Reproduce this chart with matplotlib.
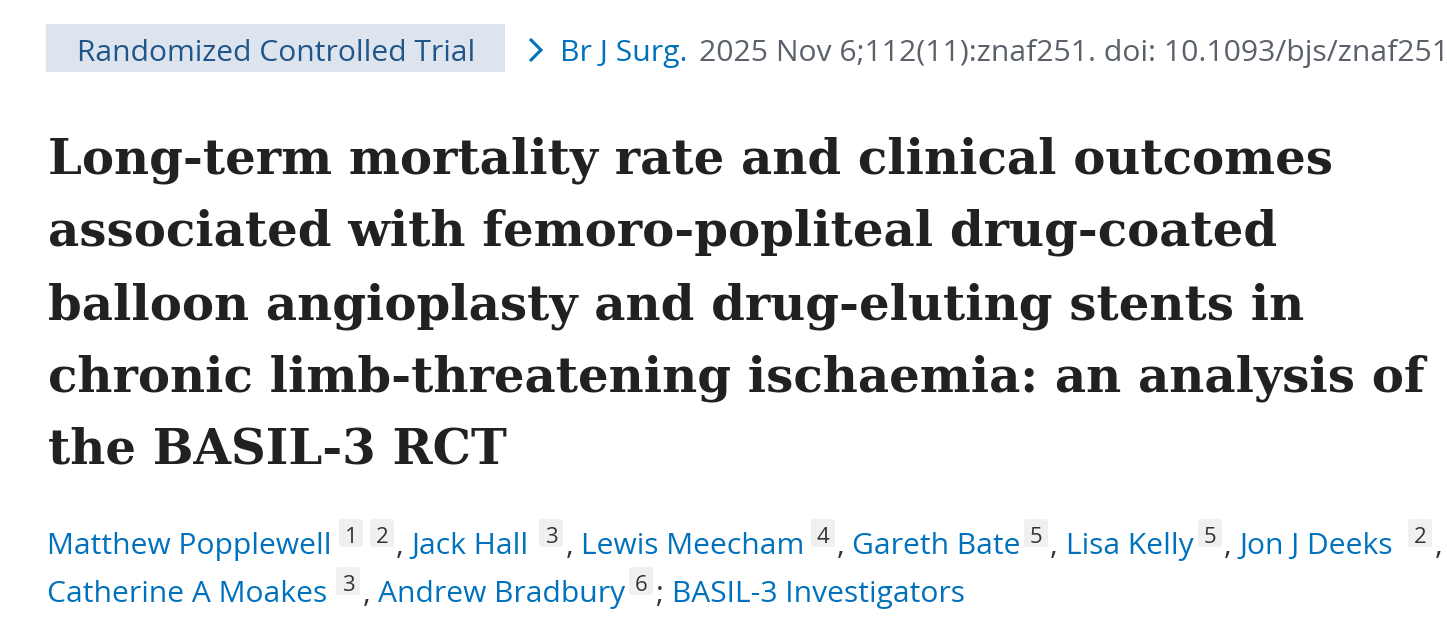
import matplotlib
matplotlib.use("Agg")
import matplotlib.pyplot as plt
from matplotlib.patches import Rectangle, FancyBboxPatch

# ---- content ----
article_type = "Randomized Controlled Trial"
journal = "Br J Surg."
citation = " 2025 Nov 6;112(11):znaf251. doi: 10.1093/bjs/znaf251"
title_lines = [
    "Long-term mortality rate and clinical outcomes",
    "associated with femoro-popliteal drug-coated",
    "balloon angioplasty and drug-eluting stents in",
    "chronic limb-threatening ischaemia: an analysis of",
    "the BASIL-3 RCT",
]
authors = ["Matthew Popplewell", "Jack Hall", "Lewis Meecham", "Gareth Bate",
           "Lisa Kelly", "Jon J Deeks", "Catherine A Moakes", "Andrew Bradbury"]
affiliations = [["1", "2"], ["3"], ["4"], ["5"], ["5"], ["2"], ["3"], ["6"]]
separators = [",", ",", ",", ",", ",", ",", ",", ";"]
group_author = "BASIL-3 Investigators"

# ---- layout (pixels) ----
W, H = 1447, 622
name_x = [47, 411, 581, 852, 1066, 1239, 47, 378]
name_line = [0, 0, 0, 0, 0, 0, 1, 1]
box_x = [[339, 370], [539], [811], [1024], [1198], [1408], [336], [629]]
sep_x = [396, 566, 837, 1050, 1224, 1435, 363, 655]
group_x, group_line = 672, 1
author_base = [554, 602]
title_x = 48
title_base = [173, 246, 319, 392, 464]
title_right = [1329, 1291, 1296, 1425, 493]

SANS = ["Open Sans", "DejaVu Sans"]
SERIF = ["DejaVu Serif"]

fig = plt.figure(figsize=(W / 100, H / 100), dpi=100, facecolor="white")
ax = fig.add_axes([0, 0, 1, 1])
ax.set_xlim(0, W)
ax.set_ylim(H, 0)
ax.axis("off")
fig.canvas.draw()
renderer = fig.canvas.get_renderer()


def width_of(t):
    bb = t.get_window_extent(renderer=renderer)
    return bb.width


def fit_size(text, target, family, weight="normal", s0=20):
    t = ax.text(0, 0, text, fontsize=s0, family=family, weight=weight)
    w = width_of(t)
    t.remove()
    return s0 * target / w


# header box
ax.add_patch(Rectangle((46, 24), 459, 48, facecolor="#dde4ee", edgecolor="none"))
s = fit_size(article_type, 397, SANS)
ax.text(77, 61, article_type, fontsize=s, family=SANS, color="#20558a",
        va="baseline", ha="left")
ax.plot([530, 541, 530], [39, 50, 61], color="#0071bc", lw=2.2,
        solid_joinstyle="miter", solid_capstyle="butt")
s = fit_size(journal, 127, SANS)
ax.text(560, 61, journal, fontsize=s, family=SANS, color="#0071bc",
        va="baseline", ha="left")
s2 = fit_size(citation.strip(), 1449 - 699, SANS)
ax.text(699, 61, citation.strip(), fontsize=s2, family=SANS, color="#5b616b",
        va="baseline", ha="left", clip_on=False)

# title
sizes = [fit_size(l, r - title_x, SERIF, "bold", 30)
         for l, r in zip(title_lines[:4], title_right[:4])]
sizes.sort()
ts = (sizes[1] + sizes[2]) / 2
for l, yb in zip(title_lines, title_base):
    ax.text(title_x, yb, l, fontsize=ts, family=SERIF, weight="bold",
            color="#212121", va="baseline", ha="left")

# authors
ns = fit_size(authors[0], 284, SANS)
ds = 16
for i, name in enumerate(authors):
    yb = author_base[name_line[i]]
    ax.text(name_x[i], yb, name, fontsize=ns, family=SANS, color="#0071bc",
            va="baseline", ha="left")
    for bx, aff in zip(box_x[i], affiliations[i]):
        top = yb - 35
        ax.add_patch(FancyBboxPatch((bx + 2, top + 2), 20, 24,
                                    boxstyle="round,pad=2,rounding_size=3",
                                    facecolor="#f0f0f0", edgecolor="none"))
        ax.text(bx + 12, yb - 11, aff, fontsize=ds, family=SANS,
                color="#333333", va="baseline", ha="center")
    ax.text(sep_x[i], yb, separators[i], fontsize=ns, family=SANS,
            color="#333333", va="baseline", ha="left")
ax.text(group_x, author_base[group_line], group_author, fontsize=ns,
        family=SANS, color="#0071bc", va="baseline", ha="left")

fig.savefig("out.png", dpi=100, facecolor="white")
